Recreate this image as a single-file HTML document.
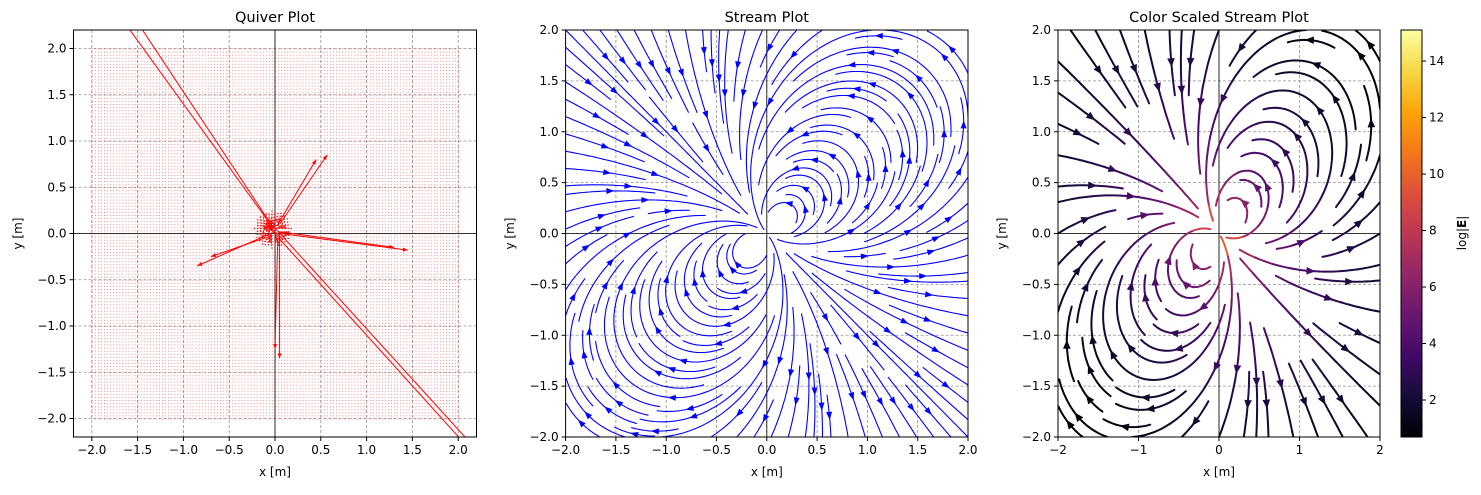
<!DOCTYPE html>
<html><head><meta charset="utf-8"><style>
body{margin:0;background:#fff}
svg text{font-family:"DejaVu Sans","Liberation Sans",sans-serif;fill:#000}
</style></head><body>
<svg id="fig" width="1481" height="490" viewBox="0 0 1481 490" xmlns="http://www.w3.org/2000/svg">
<defs>
<clipPath id="c1"><rect x="73.5" y="30" width="403" height="407"/></clipPath>
<clipPath id="c2"><rect x="565.6" y="30" width="402.4" height="407"/></clipPath>
<clipPath id="c3"><rect x="1058" y="30" width="322" height="407"/></clipPath>
<linearGradient id="inferno" x1="0" y1="1" x2="0" y2="0">
<stop offset="0" stop-color="#000004"/><stop offset="0.1" stop-color="#160b39"/><stop offset="0.2" stop-color="#420a68"/><stop offset="0.3" stop-color="#6a176e"/><stop offset="0.4" stop-color="#932667"/><stop offset="0.5" stop-color="#bc3754"/><stop offset="0.6" stop-color="#dd513a"/><stop offset="0.7" stop-color="#f37819"/><stop offset="0.8" stop-color="#fca50a"/><stop offset="0.9" stop-color="#f6d746"/><stop offset="1" stop-color="#fcffa4"/>
</linearGradient>
</defs>
<g id="p1"></g>
<g id="p2"></g>
<g id="p3"></g>
<g id="cb"></g>
</svg>
<script>
// ---- data ----
const dipoleP = [1, -1];
const colorOffset = 3.1;
const cbMin = 0.69, cbMax = 15.1;
const cbTicks = [2, 4, 6, 8, 10, 12, 14];
const ticks05 = [-2.0, -1.5, -1.0, -0.5, 0.0, 0.5, 1.0, 1.5, 2.0];
const ticks1 = [-2, -1, 0, 1, 2];
const quiverStep = 0.0333;
const longX0 = [-0.05, -0.03, -0.05, -0.02, 0.02, 0.05, 0.04, 0.06, -0.03, -0.05, 0.03, 0.05];
const longY0 = [0.10, 0.08, 0.05, 0.08, 0.08, 0.10, 0.02, 0.00, -0.02, 0.00, -0.05, 0.00];
const longX1 = [-1.62, -1.48, 2.05, 2.12, 0.45, 0.57, 1.30, 1.45, -0.70, -0.85, 0.00, 0.05];
const longY1 = [2.25, 2.25, -2.25, -2.25, 0.80, 0.85, -0.15, -0.18, -0.25, -0.35, -1.25, -1.35];

const NS = "http://www.w3.org/2000/svg";
function el(parent, tag, attrs, txt){const e=document.createElementNS(NS,tag);for(const k in attrs)e.setAttribute(k,attrs[k]);if(txt!==undefined)e.textContent=txt;parent.appendChild(e);return e;}
function field(x,y){const r2=x*x+y*y;const r=Math.sqrt(r2);if(r<1e-9)return null;const ux=x/r,uy=y/r;const pd=dipoleP[0]*ux+dipoleP[1]*uy;const r3=r2*r;return [(3*pd*ux-dipoleP[0])/r3,(3*pd*uy-dipoleP[1])/r3];}
function fmt(v,d){const s=Math.abs(v).toFixed(d);return (v<0?"\u2212":"")+s;}
const infernoStops=[[0,0,0,4],[0.1,22,11,57],[0.2,66,10,104],[0.3,106,23,110],[0.4,147,38,103],[0.5,188,55,84],[0.6,221,81,58],[0.7,243,120,25],[0.8,252,165,10],[0.9,246,215,70],[1,252,255,164]];
function inferno(t){t=Math.max(0,Math.min(1,t));for(let i=1;i<infernoStops.length;i++){const a=infernoStops[i-1],b=infernoStops[i];if(t<=b[0]){const f=(t-a[0])/(b[0]-a[0]);return `rgb(${Math.round(a[1]+f*(b[1]-a[1]))},${Math.round(a[2]+f*(b[2]-a[2]))},${Math.round(a[3]+f*(b[3]-a[3]))})`;}}return "rgb(252,255,164)";}

function axes(g, opt){
  const {X,Y,x0,x1,y0,y1,xt,yt,xd,yd,xg,yg,title,clip,ylabx}=opt;
  const L=X(x0),R=X(x1),T=Y(y1),B=Y(y0);
  const grid=el(g,"g",{"clip-path":`url(#${clip})`});
  
  
  xg.forEach(v=>el(grid,"line",{x1:X(v),x2:X(v),y1:T,y2:B,stroke:"#909090","stroke-width":0.8,"stroke-dasharray":"3,2"}));
  yg.forEach(v=>el(grid,"line",{x1:L,x2:R,y1:Y(v),y2:Y(v),stroke:"#909090","stroke-width":0.8,"stroke-dasharray":"3,2"}));
  el(grid,"line",{x1:X(0),x2:X(0),y1:T,y2:B,stroke:"#000","stroke-width":0.8});
  el(grid,"line",{x1:L,x2:R,y1:Y(0),y2:Y(0),stroke:"#000","stroke-width":0.8});
  return {L,R,T,B,finish(){
    el(g,"rect",{x:L,y:T,width:R-L,height:B-T,fill:"none",stroke:"#000","stroke-width":1});
    xt.forEach(v=>{el(g,"line",{x1:X(v),x2:X(v),y1:B,y2:B+4,stroke:"#000"});const t=el(g,"text",{x:X(v),y:B+17,"font-size":12,"text-anchor":"middle"},fmt(v,xd));});
    yt.forEach(v=>{el(g,"line",{x1:L-4,x2:L,y1:Y(v),y2:Y(v),stroke:"#000"});const t=el(g,"text",{x:L-7,y:Y(v)+4,"font-size":12,"text-anchor":"end"},fmt(v,yd));});
    const tt=el(g,"text",{x:(L+R)/2,y:22,"font-size":14.5,"text-anchor":"middle"},title);
    const xl=el(g,"text",{x:(L+R)/2,y:476,"font-size":12,"text-anchor":"middle"},"x [m]");
    const yl=el(g,"text",{x:ylabx,y:(T+B)/2,"font-size":12,"text-anchor":"middle",transform:`rotate(-90 ${ylabx} ${(T+B)/2})`},"y [m]");
  }};
}

// ---- Panel 1: quiver ----
(function(){
  const g=document.getElementById("p1");
  const X=x=>275+x*91.6, Y=y=>233.5-y*92.5;
  const ax=axes(g,{X,Y,x0:-2.2,x1:2.2,y0:-2.2,y1:2.2,xt:ticks05,yt:ticks05,xd:1,yd:1,xg:ticks05,yg:ticks05,title:"Quiver Plot",clip:"c1",ylabx:22});
  const q=el(g,"g",{"clip-path":"url(#c1)"});
  
  
  let d="";
  const n=Math.round(4/quiverStep);
  for(let i=0;i<=n;i++)for(let j=0;j<=n;j++){
    const x=-2+i*4/n,y=-2+j*4/n;
    const r=Math.hypot(x,y);if(r<0.15)continue;
    d+=`M${X(x).toFixed(1)} ${Y(y).toFixed(1)}h1v1h-1z`;
  }
  el(q,"path",{d,fill:"#ff0000","fill-opacity":0.45});
  for(let i=-6;i<=6;i++)for(let j=-6;j<=6;j++){
    const x=i*quiverStep,y=j*quiverStep;const r=Math.hypot(x,y);if(r<0.02||r>=0.2)continue;
    const E=field(x,y);const m=Math.hypot(E[0],E[1]);const len=Math.min(0.09,0.00002*m+0.01);
    const a=el(q,"line",{x1:X(x-0.03),y1:Y(y+0.05),x2:X(x-0.03+E[0]/m*len),y2:Y(y+0.05+E[1]/m*len),stroke:"#ff0000","stroke-width":1.1});
    
    
  }
  for(let k=0;k<longX0.length;k++){
    const x0=X(longX0[k]),y0=Y(longY0[k]),x1=X(longX1[k]),y1=Y(longY1[k]);
    const a=el(q,"line",{x1:x0,y1:y0,x2:x1,y2:y1,stroke:"#ff0000","stroke-width":1});
    
    
    const dx=x1-x0,dy=y1-y0,l=Math.hypot(dx,dy),ux=dx/l,uy=dy/l;
    el(q,"path",{d:`M${x1} ${y1}L${x1-ux*5-uy*2} ${y1-uy*5+ux*2}L${x1-ux*5+uy*2} ${y1-uy*5-ux*2}Z`,fill:"#ff0000"});
  }
  ax.finish();
})();

// ---- streamplot ----
function streams(density){
  const N=Math.round(30*density);const mask=new Uint8Array(N*N);
  const h=0.35*4/(N-1);const minL=0.4,maxL=16;
  const cell=(x,y)=>Math.round((y+2)/4*(N-1))*N+Math.round((x+2)/4*(N-1));
  const dir=(x,y,s)=>{if(Math.hypot(x,y)<0.04)return null;const E=field(x,y);const m=Math.hypot(E[0],E[1]);return [s*E[0]/m,s*E[1]/m];};
  const out=[];
  let xf=0,yf=1,xl=N-1,yl=N-1,x=0,y=0,dirn=0;
  for(let it=0;it<N*N;it++){
    const sx=-2+x*4/(N-1),sy=-2+y*4/(N-1);
    const start=cell(sx,sy);
    if(!mask[start]){
      const marked=[start];mask[start]=1;
      const run=(s)=>{let px=sx,py=sy,cur=start,pts=[],L=0;
        for(let k=0;k<3000;k++){const d1=dir(px,py,s);if(!d1)break;const d2=dir(px+d1[0]*h/2,py+d1[1]*h/2,s);if(!d2)break;
          const nx=px+d2[0]*h,ny=py+d2[1]*h;if(nx<-2||nx>2||ny<-2||ny>2)break;
          const c=cell(nx,ny);if(c!==cur){if(mask[c])break;mask[c]=1;marked.push(c);cur=c;}
          px=nx;py=ny;pts.push([px,py]);L+=h;if(L>maxL)break;}
        return [pts,L];};
      const [b,Lb]=run(-1);const [f,Lf]=run(1);
      if(Lb+Lf<minL){marked.forEach(c=>mask[c]=0);}
      else out.push(b.reverse().concat([[sx,sy]],f));
    }
    if(dirn===0){x++;if(x>=xl){xl--;dirn=1;}}
    else if(dirn===1){y++;if(y>=yl){yl--;dirn=2;}}
    else if(dirn===2){x--;if(x<=xf){xf++;dirn=3;}}
    else {y--;if(y<=yf){yf++;dirn=0;}}
  }
  return out;
}
function arrowHead(g,X,Y,pts,color,len,hw){
  const i=Math.floor(pts.length/2);if(i+1>=pts.length)return;
  const ax=X(pts[i][0]),ay=Y(pts[i][1]),bx=X(pts[i+1][0]),by=Y(pts[i+1][1]);
  const l=Math.hypot(bx-ax,by-ay);if(l===0)return;const ux=(bx-ax)/l,uy=(by-ay)/l;
  const tx=ax+ux*len/2,ty=ay+uy*len/2;
  const a=el(g,"path",{d:`M${tx} ${ty}L${tx-ux*len-uy*hw} ${ty-uy*len+ux*hw}L${tx-ux*len+uy*hw} ${ty-uy*len-ux*hw}Z`,fill:color});
  
  
}

// ---- Panel 2 ----
(function(){
  const g=document.getElementById("p2");
  const X=x=>766.8+x*100.6, Y=y=>233.5-y*101.75;
  const ax=axes(g,{X,Y,x0:-2,x1:2,y0:-2,y1:2,xt:ticks05,yt:ticks05,xd:1,yd:1,xg:ticks05,yg:ticks05,title:"Stream Plot",clip:"c2",ylabx:514});
  const s=el(g,"g",{"clip-path":"url(#c2)"});
  streams(1.6).forEach(pts=>{
    const p=el(s,"polyline",{points:pts.map(q=>X(q[0]).toFixed(1)+","+Y(q[1]).toFixed(1)).join(" "),fill:"none",stroke:"#0000ff","stroke-width":1.1});
    
    
    arrowHead(s,X,Y,pts,"#0000ff",8,3);
  });
  ax.finish();
})();

// ---- Panel 3 ----
(function(){
  const g=document.getElementById("p3");
  const X=x=>1219+x*80.5, Y=y=>233.5-y*101.75;
  const ax=axes(g,{X,Y,x0:-2,x1:2,y0:-2,y1:2,xt:ticks1,yt:ticks05,xd:0,yd:1,xg:ticks1,yg:ticks05,title:"Color Scaled Stream Plot",clip:"c3",ylabx:1006});
  const s=el(g,"g",{"clip-path":"url(#c3)"});
  const cval=(x,y)=>{const E=field(x,y);return Math.log(Math.hypot(E[0],E[1]))+colorOffset;};
  const col=(x,y)=>inferno((cval(x,y)-cbMin)/(cbMax-cbMin));
  streams(0.9).forEach(pts=>{
    const gl=el(s,"g",{});
    
    
    const step=4;
    for(let i=0;i<pts.length-1;i+=step){
      const seg=pts.slice(i,Math.min(pts.length,i+step+1));const m=seg[Math.floor(seg.length/2)];
      el(gl,"polyline",{points:seg.map(q=>X(q[0]).toFixed(1)+","+Y(q[1]).toFixed(1)).join(" "),fill:"none",stroke:col(m[0],m[1]),"stroke-width":2,"stroke-linecap":"round"});
    }
    const mid=pts[Math.floor(pts.length/2)];
    arrowHead(s,X,Y,pts,col(mid[0],mid[1]),9,3.8);
  });
  ax.finish();
})();

// ---- Colorbar ----
(function(){
  const g=document.getElementById("cb");
  const L=1401,R=1422,T=30,B=437;
  const Yc=v=>B-(v-cbMin)/(cbMax-cbMin)*(B-T);
  el(g,"rect",{x:L,y:T,width:R-L,height:B-T,fill:"url(#inferno)",stroke:"#000","stroke-width":1});
  cbTicks.forEach(v=>{el(g,"line",{x1:R,x2:R+4,y1:Yc(v),y2:Yc(v),stroke:"#000"});
    const t=el(g,"text",{x:R+7,y:Yc(v)+4,"font-size":12},String(v));});
  const lab=el(g,"text",{x:1466,y:233,"font-size":12,"text-anchor":"middle",transform:"rotate(-90 1466 233)"});
  
  
  el(lab,"tspan",{},"log|");el(lab,"tspan",{"font-weight":"bold"},"E");el(lab,"tspan",{},"|");
})();
</script>
</body></html>
